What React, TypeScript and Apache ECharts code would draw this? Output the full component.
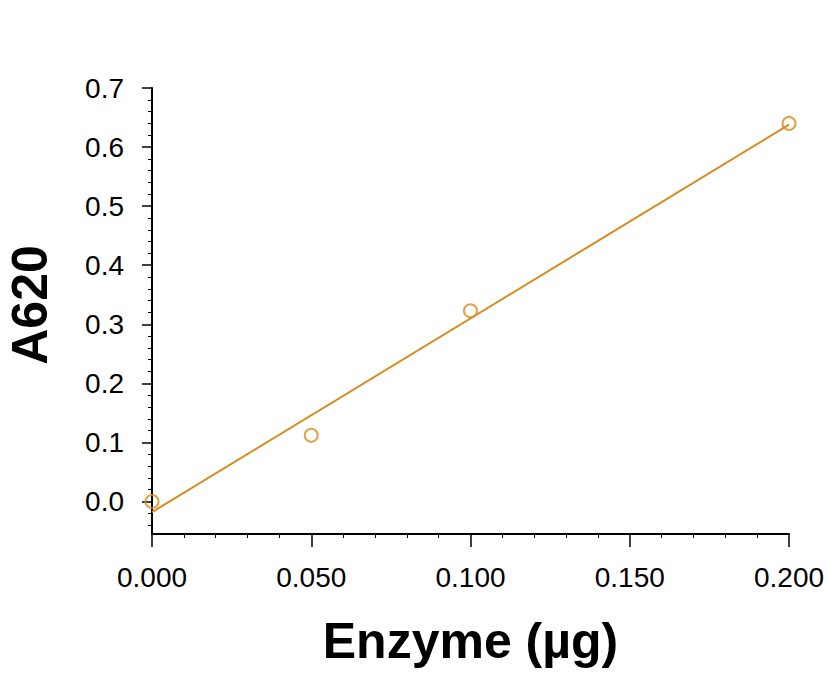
import { useEffect, useRef } from 'react';
import * as echarts from 'echarts';

const enzymeUg = [0, 0.05, 0.1, 0.2];
const a620 = [0.0, 0.112, 0.323, 0.64];
// fitted line end points
const fitLine: [number, number][] = [
  [0, -0.018],
  [0.2, 0.638],
];
const yMajorTicks = [0, 0.1, 0.2, 0.3, 0.4, 0.5, 0.6, 0.7];
const yMinorTicks = [-0.04, -0.02, 0.02, 0.04, 0.06, 0.08, 0.12, 0.14, 0.16, 0.18, 0.22, 0.24, 0.26, 0.28, 0.32, 0.34, 0.36, 0.38, 0.42, 0.44, 0.46, 0.48, 0.52, 0.54, 0.56, 0.58, 0.62, 0.64, 0.66, 0.68];

const ORANGE = '#D98A1E';
const FONT = '"Liberation Sans", Arial, sans-serif';

export default function App() {
  const ref = useRef<HTMLDivElement | null>(null);
  useEffect(() => {
    if (!ref.current) return;
    const chart = echarts.init(ref.current, undefined, { renderer: 'svg' });
    const yBase = { type: 'value' as const, min: -0.055, max: 0.7, splitLine: { show: false } };
    chart.setOption({
      animation: false,
      backgroundColor: '#fff',
      textStyle: { fontFamily: FONT, color: '#000' },
      grid: { left: 152, right: 39, top: 88, bottom: 140, outerBoundsMode: 'none', containLabel: false },
      xAxis: {
        type: 'value',
        min: 0,
        max: 0.2,
        interval: 0.05,
        name: 'Enzyme (µg)',
        nameLocation: 'middle',
        nameGap: 82,
        nameTextStyle: { fontSize: 50, fontWeight: 'bold', color: '#000', fontFamily: FONT },
        axisLine: { onZero: false, lineStyle: { color: '#000', width: 2 } },
        axisTick: { length: 13, lineStyle: { color: '#000', width: 1.5 } },
        minorTick: { show: true, splitNumber: 5, length: 4, lineStyle: { color: '#000', width: 1 } },
        axisLabel: { fontSize: 28, color: '#000', margin: 29, fontFamily: FONT, formatter: (v: number) => v.toFixed(3) },
        splitLine: { show: false },
      },
      yAxis: [
        {
          ...yBase,
          name: 'A620',
          nameLocation: 'middle',
          nameGap: 97,
          nameRotate: 90,
          nameTextStyle: { fontSize: 50, fontWeight: 'bold', color: '#000', fontFamily: FONT, padding: [0, 0, 0, 12] },
          axisLine: { onZero: false, lineStyle: { color: '#000', width: 2 } },
          axisTick: { length: 10, customValues: yMajorTicks, lineStyle: { color: '#000', width: 1.5 } },
          axisLabel: { fontSize: 28, color: '#000', margin: 28, fontFamily: FONT, customValues: yMajorTicks, formatter: (v: number) => v.toFixed(1) },
        },
        {
          ...yBase,
          position: 'left',
          axisLine: { show: false },
          axisTick: { length: 4, customValues: yMinorTicks, lineStyle: { color: '#000', width: 1 } },
          axisLabel: { show: false },
        },
      ],
      series: [
        {
          type: 'line',
          data: fitLine,
          showSymbol: false,
          lineStyle: { color: ORANGE, width: 2 },
          silent: true,
        },
        {
          type: 'scatter',
          data: enzymeUg.map((x, i) => [x, a620[i]]),
          symbol: 'circle',
          symbolSize: 13,
          clip: false,
          itemStyle: { color: 'rgba(0,0,0,0)', borderColor: ORANGE, borderWidth: 2 },
        },
      ],
    });
    return () => chart.dispose();
  }, []);
  return <div ref={ref} style={{ position: 'fixed', left: 0, top: 0, width: 828, height: 674 }} />;
}
